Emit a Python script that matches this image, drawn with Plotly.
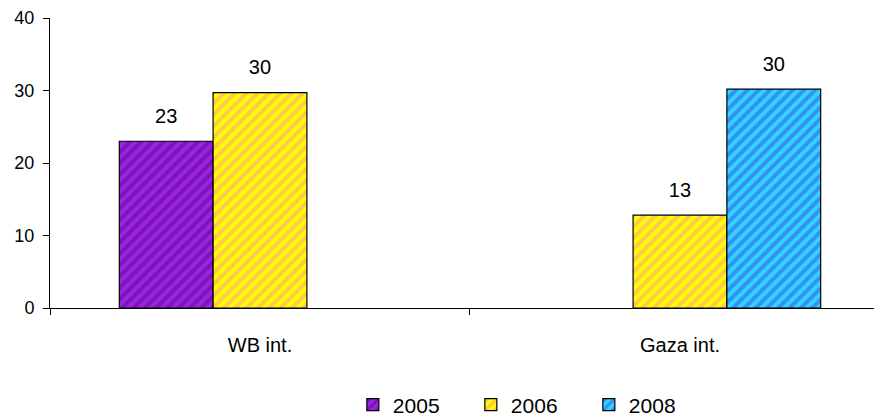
import plotly.graph_objects as go

categories = ["WB int.", "Gaza int."]
years = ["2005", "2006", "2008"]
values_2005 = [23, None]
values_2006 = [29.7, 12.8]
values_2008 = [None, 30.2]
labels_2005 = ["23", ""]
labels_2006 = ["30", "13"]
labels_2008 = ["", "30"]

# background colour, stripe colour
fills = {
    "2005": ("#9C22E6", "#7A16B5"),
    "2006": ("#FFFF00", "#FFC94A"),
    "2008": ("#33D4FF", "#3391F5"),
}

fig = go.Figure()
for year, vals, labs in zip(years,
                            [values_2005, values_2006, values_2008],
                            [labels_2005, labels_2006, labels_2008]):
    bg, fg = fills[year]
    fig.add_trace(go.Bar(
        name=year, x=categories, y=vals, offsetgroup=year,
        marker=dict(color=bg, line=dict(color="black", width=1.2),
                    pattern=dict(shape="/", bgcolor=bg, fgcolor=fg,
                                 size=8, solidity=0.5, fillmode="replace")),
    ))
    # value labels, grouped like the bars; invisible marker pushes text up
    fig.add_trace(go.Scatter(
        x=categories, y=vals, text=labs, mode="markers+text",
        offsetgroup=year, textposition="top center",
        marker=dict(size=20, color="rgba(0,0,0,0)"),
        textfont=dict(size=20, color="black"),
        cliponaxis=False, showlegend=False, hoverinfo="skip",
    ))

# page body has an 8px margin, so the figure is drawn 8px in
fig.update_layout(
    width=874, height=410,
    margin=dict(l=42, r=0, t=10, b=110),
    paper_bgcolor="white", plot_bgcolor="white",
    barmode="group", bargap=0.33, bargroupgap=0,
    scattermode="group", scattergap=0.33,
    font=dict(family="Liberation Sans, Arial", size=20, color="black"),
    showlegend=True,
    legend=dict(orientation="h", x=0.364, xanchor="left",
                yref="container", y=0.032, yanchor="middle",
                font=dict(size=21),
                entrywidth=73, entrywidthmode="pixels",
                itemwidth=30, traceorder="normal"),
)
fig.update_xaxes(range=[-0.5, 1.481], showline=True, linecolor="black",
                 linewidth=1, ticks="outside", tickson="boundaries",
                 ticklen=6, tickcolor="black", showgrid=False,
                 ticklabelstandoff=19, automargin=False,
                 tickfont=dict(size=20))
fig.update_yaxes(range=[0, 40], dtick=10, showline=True, linecolor="black",
                 linewidth=1, ticks="outside", ticklen=6, tickcolor="black",
                 showgrid=False, zeroline=False, automargin=False,
                 ticklabelstandoff=5, tickfont=dict(size=18))

fig.write_html("out.html")
